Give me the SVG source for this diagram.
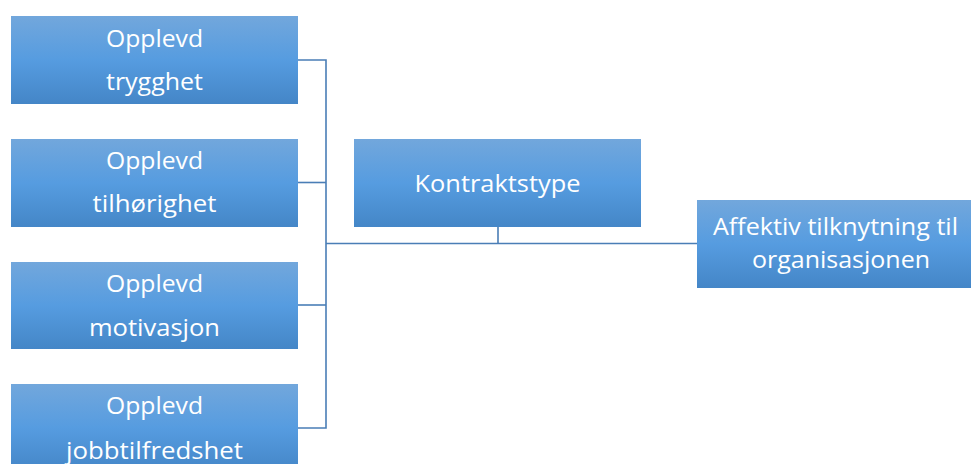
<svg xmlns="http://www.w3.org/2000/svg" width="971" height="464" viewBox="0 0 971 464">
  <defs>
    <linearGradient id="boxFill" x1="0" y1="0" x2="0" y2="1">
      <stop offset="0" stop-color="#72a7dc"/>
      <stop offset="0.5" stop-color="#569ce0"/>
      <stop offset="1" stop-color="#4486c7"/>
    </linearGradient>
  </defs>
  <style>
    .box { fill: url(#boxFill); }
    .lbl { font-family: "Open Sans", "Liberation Sans", sans-serif; font-size: 24.5px; fill: #ffffff; text-anchor: middle; }
    .wire { fill: none; stroke: #4a7eb6; stroke-width: 1.6; }
  </style>

  <rect width="971" height="464" fill="#ffffff"/>

  <g id="connectors">
    <polyline class="wire" points="298,60 326,60 326,428 298,428"/>
    <line class="wire" x1="298" y1="182.5" x2="326" y2="182.5"/>
    <line class="wire" x1="298" y1="305" x2="326" y2="305"/>
    <line class="wire" x1="326" y1="243.5" x2="697" y2="243.5"/>
    <line class="wire" x1="498" y1="227" x2="498" y2="243.5"/>
  </g>

  <g id="node-trygghet">
    <rect class="box" x="11" y="16" width="287" height="88"/>
    <text class="lbl" x="154.5" y="47" textLength="97" lengthAdjust="spacingAndGlyphs">Opplevd</text>
    <text class="lbl" x="154.5" y="90" textLength="97" lengthAdjust="spacingAndGlyphs">trygghet</text>
  </g>

  <g id="node-tilhorighet">
    <rect class="box" x="11" y="139" width="287" height="88"/>
    <text class="lbl" x="154.5" y="169" textLength="97" lengthAdjust="spacingAndGlyphs">Opplevd</text>
    <text class="lbl" x="154.5" y="212" textLength="124" lengthAdjust="spacingAndGlyphs">tilhørighet</text>
  </g>

  <g id="node-motivasjon">
    <rect class="box" x="11" y="262" width="287" height="87"/>
    <text class="lbl" x="154.5" y="292" textLength="97" lengthAdjust="spacingAndGlyphs">Opplevd</text>
    <text class="lbl" x="154.5" y="336" textLength="131" lengthAdjust="spacingAndGlyphs">motivasjon</text>
  </g>

  <g id="node-jobbtilfredshet">
    <rect class="box" x="11" y="384" width="287" height="88"/>
    <text class="lbl" x="154.5" y="414" textLength="97" lengthAdjust="spacingAndGlyphs">Opplevd</text>
    <text class="lbl" x="154.5" y="459" textLength="177" lengthAdjust="spacingAndGlyphs">jobbtilfredshet</text>
  </g>

  <g id="node-kontraktstype">
    <rect class="box" x="354" y="139" width="287" height="88"/>
    <text class="lbl" x="497.5" y="192" textLength="166" lengthAdjust="spacingAndGlyphs">Kontraktstype</text>
  </g>

  <g id="node-affektiv">
    <rect class="box" x="697" y="200" width="287" height="88"/>
    <text class="lbl" x="835.5" y="235" textLength="245" lengthAdjust="spacingAndGlyphs">Affektiv tilknytning til</text>
    <text class="lbl" x="841" y="268" textLength="178" lengthAdjust="spacingAndGlyphs">organisasjonen</text>
  </g>
</svg>
